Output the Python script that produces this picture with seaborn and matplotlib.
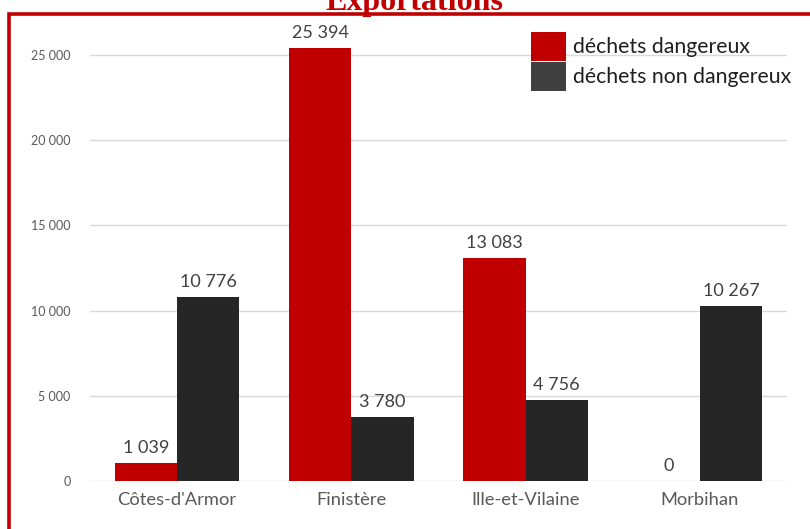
import matplotlib
matplotlib.use("Agg")
import matplotlib.pyplot as plt
from matplotlib.patches import Rectangle
import seaborn as sns
import pandas as pd

departements = ["Côtes-d'Armor", "Finistère", "Ille-et-Vilaine", "Morbihan"]
dangereux = [1039, 25394, 13083, 0]
non_dangereux = [10776, 3780, 4756, 10267]
series = ["déchets dangereux", "déchets non dangereux"]
yticks = [0, 5000, 10000, 15000, 20000, 25000]

df = pd.DataFrame({
    "dep": departements * 2,
    "type": [series[0]] * 4 + [series[1]] * 4,
    "val": dangereux + non_dangereux,
})

sns.set_style("white")
plt.rcParams["font.family"] = ["Lato", "DejaVu Sans"]

fig = plt.figure(figsize=(8.1, 5.29), dpi=100)
ax = fig.add_axes([90 / 810, 1 - 481 / 529, (787 - 90) / 810, (481 - 30) / 529])

sns.barplot(data=df, x="dep", y="val", hue="type", order=departements,
            hue_order=series, palette=["#c00000", "#262626"], width=0.714,
            gap=0, saturation=1, linewidth=0, ax=ax, zorder=3)

fmt = lambda v: f"{int(v):,}".replace(",", " ")
for cont in ax.containers:
    ax.bar_label(cont, labels=[fmt(b.get_height()) for b in cont], padding=5,
                 fontsize=13, color="#404040")

ax.set_xlim(-0.5, 3.5)
ax.set_ylim(0, 26470)
ax.set_yticks(yticks)
ax.set_yticklabels([fmt(v) for v in yticks], fontsize=9, color="#595959")
ax.tick_params(axis="x", labelsize=13.2, labelcolor="#595959", length=0, pad=8)
ax.tick_params(axis="y", length=0, pad=14)
ax.grid(axis="y", color="#d9d9d9", lw=1, zorder=0)
for s in ax.spines.values():
    s.set_visible(False)
ax.set_xlabel("")
ax.set_ylabel("")

leg = ax.legend(loc="upper right", bbox_to_anchor=(1.018, 1.015), frameon=False,
                fontsize=15.3, handlelength=1.65, handleheight=1.75,
                labelspacing=0.02, handletextpad=0.3, borderaxespad=0)
for t in leg.get_texts():
    t.set_color("#1f1f1f")
leg.legend_handles[1].set_facecolor("#404040")

fig.patches.append(Rectangle((9 / 810, -0.05), 900 / 810, 1 - 13.5 / 529 + 0.05,
                             transform=fig.transFigure, fill=False,
                             edgecolor="#c00000", lw=2.6))
fig.text(414 / 810, 1 - 10 / 529, "Exportations", ha="center", va="baseline",
         fontsize=23, fontweight="bold", color="#c00000",
         family=["Liberation Serif", "DejaVu Serif"])

fig.savefig("out.png", dpi=100)
